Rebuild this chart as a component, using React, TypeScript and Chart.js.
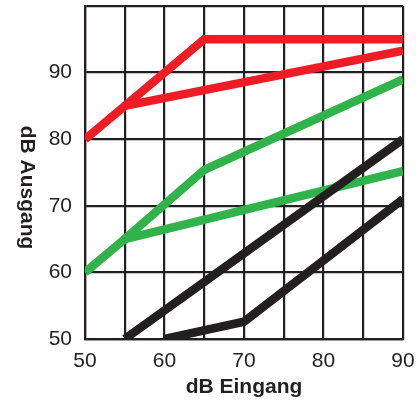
import { useEffect, useRef } from "react";
import { Chart, registerables, type Plugin } from "chart.js";

Chart.register(...registerables);

// dB Eingang (x) -> dB Ausgang (y)
const redUpperX = [50, 55, 65, 90];
const redUpperY = [80, 85, 95, 95];
const redLowerX = [55, 90];
const redLowerY = [85, 93.3];

const greenUpperX = [50, 55, 65, 90];
const greenUpperY = [60, 65, 75.4, 89];
const greenLowerX = [55, 90];
const greenLowerY = [65, 75.2];

const blackUpperX = [55, 90];
const blackUpperY = [50, 80];
const blackLowerX = [60, 70, 90];
const blackLowerY = [50, 52.6, 71];

const xTickLabels = [50, 60, 70, 80, 90];
const yTickLabels = [50, 60, 70, 80, 90];

const RED = "#ee1c25";
const GREEN = "#2fb34a";
const BLACK = "#231f20";
const GRID = "#231f20";
const FONT = "'Liberation Sans', Arial, sans-serif";

const toPoints = (xs: number[], ys: number[]) => xs.map((x, i) => ({ x, y: ys[i] }));

// y-axis title reads top to bottom, so it is drawn here rather than by the scale
const yTitlePlugin: Plugin<"line"> = {
  id: "yTitle",
  afterDraw(chart) {
    const { ctx, chartArea } = chart;
    ctx.save();
    ctx.translate(27, (chartArea.top + chartArea.bottom) / 2 + 15);
    ctx.rotate(Math.PI / 2);
    ctx.font = `bold 21px ${FONT}`;
    ctx.fillStyle = BLACK;
    ctx.textAlign = "center";
    ctx.textBaseline = "middle";
    ctx.fillText("dB Ausgang", 0, 0);
    ctx.restore();
  },
};

export default function App() {
  const canvasRef = useRef<HTMLCanvasElement>(null);

  useEffect(() => {
    document.body.style.margin = "0";
    if (!canvasRef.current) return;

    const line = (data: { x: number; y: number }[], color: string) => ({
      data,
      borderColor: color,
      backgroundColor: color,
      borderWidth: 8.5,
      borderCapStyle: "butt" as const,
      borderJoinStyle: "miter" as const,
      pointRadius: 0,
      tension: 0,
      clip: 0,
    });

    const chart = new Chart(canvasRef.current, {
      type: "line",
      data: {
        datasets: [
          line(toPoints(blackLowerX, blackLowerY), BLACK),
          line(toPoints(blackUpperX, blackUpperY), BLACK),
          line(toPoints(greenLowerX, greenLowerY), GREEN),
          line(toPoints(greenUpperX, greenUpperY), GREEN),
          line(toPoints(redLowerX, redLowerY), RED),
          line(toPoints(redUpperX, redUpperY), RED),
        ],
      },
      options: {
        animation: false,
        responsive: false,
        layout: { padding: { top: 6, right: 15, left: 0, bottom: 0 } },
        plugins: { legend: { display: false }, tooltip: { enabled: false } },
        scales: {
          x: {
            type: "linear",
            min: 50,
            max: 90,
            afterFit: (s) => {
              s.height = 61;
              s.paddingLeft = 0;
              s.paddingRight = 0;
            },
            grid: { color: GRID, lineWidth: 2.2, drawTicks: false },
            border: { color: GRID, width: 2.2 },
            ticks: {
              stepSize: 5,
              autoSkip: false,
              maxRotation: 0,
              padding: 10,
              color: BLACK,
              font: { family: FONT, size: 21 },
              callback: (v) => (xTickLabels.includes(Number(v)) ? String(v) : ""),
            },
            title: {
              display: true,
              text: "dB Eingang",
              color: BLACK,
              font: { family: FONT, size: 21, weight: "bold" },
              padding: { top: 0, bottom: 0 },
            },
          },
          y: {
            type: "linear",
            min: 50,
            max: 100,
            afterFit: (s) => {
              s.width = 85;
              s.paddingTop = 0;
              s.paddingBottom = 0;
            },
            grid: { color: GRID, lineWidth: 2.2, drawTicks: false },
            border: { color: GRID, width: 2.2 },
            ticks: {
              stepSize: 10,
              padding: 13,
              color: BLACK,
              font: { family: FONT, size: 21 },
              callback: (v) => (yTickLabels.includes(Number(v)) ? String(v) : ""),
            },
          },
        },
      },
      plugins: [yTitlePlugin],
    });

    return () => chart.destroy();
  }, []);

  return (
    <div style={{ width: 418, height: 400 }}>
      <canvas ref={canvasRef} width={418} height={400} />
    </div>
  );
}
